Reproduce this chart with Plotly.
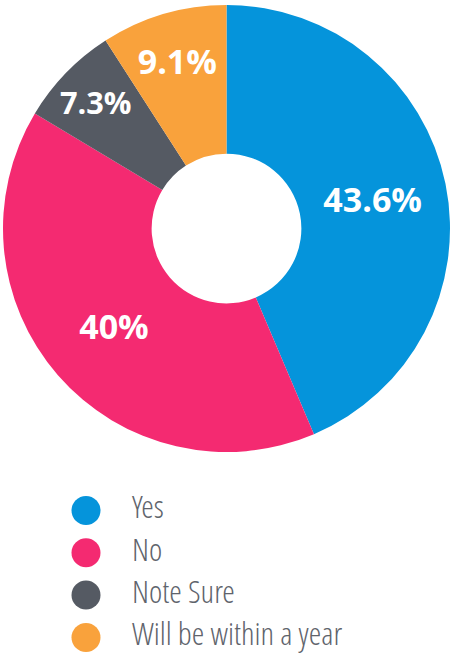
import plotly.graph_objects as go

# answers and their share of responses (%)
labels = ["Yes", "No", "Note Sure", "Will be within a year"]
values = [43.6, 40.0, 7.3, 9.1]
colors = ["#0594DB", "#F42A71", "#555A63", "#F9A23C"]

W, H = 453, 656
LEGEND_FONT = "Open Sans Condensed Light, Open Sans Condensed, DejaVu Sans Condensed, Liberation Sans Narrow, sans-serif"

fig = go.Figure()

fig.add_trace(go.Pie(
    labels=labels,
    values=values,
    hole=0.335,
    sort=False,
    direction="clockwise",
    rotation=0,
    marker=dict(colors=colors, line=dict(width=0)),
    textinfo="percent",
    textposition="inside",
    insidetextorientation="horizontal",
    insidetextfont=dict(family="Open Sans", size=34, color="white", weight=700),
    domain=dict(x=[0, 1], y=[1 - 452 / H, 1 - 5 / H]),
    showlegend=False,
    hoverinfo="label+percent",
))

# legend drawn as a small scatter panel so the dots can be big circles
fig.add_trace(go.Scatter(
    x=[86] * len(labels),
    y=labels,
    mode="markers",
    marker=dict(size=29, color=colors, symbol="circle"),
    xaxis="x", yaxis="y",
    showlegend=False,
    hoverinfo="skip",
))
fig.add_trace(go.Scatter(
    x=[132] * len(labels),
    y=labels,
    mode="text",
    text=labels,
    textposition="middle right",
    textfont=dict(family=LEGEND_FONT, size=32, color="#5F646C", weight=300),
    xaxis="x", yaxis="y",
    showlegend=False,
    hoverinfo="skip",
))

fig.update_layout(
    width=W, height=H,
    margin=dict(l=0, r=0, t=0, b=0),
    paper_bgcolor="white",
    plot_bgcolor="rgba(0,0,0,0)",
    xaxis=dict(domain=[0, 1], range=[0, W], visible=False, fixedrange=True),
    yaxis=dict(
        domain=[0, 0.26],
        type="category",
        categoryorder="array",
        categoryarray=labels,
        range=[3.44, -0.59],
        visible=False,
        fixedrange=True,
    ),
)

# drop the browser's default page margin so the figure sits at the window corner
fig.write_html(
    "out.html",
    config={"displayModeBar": False},
    post_script="document.body.style.margin = '0';",
)
